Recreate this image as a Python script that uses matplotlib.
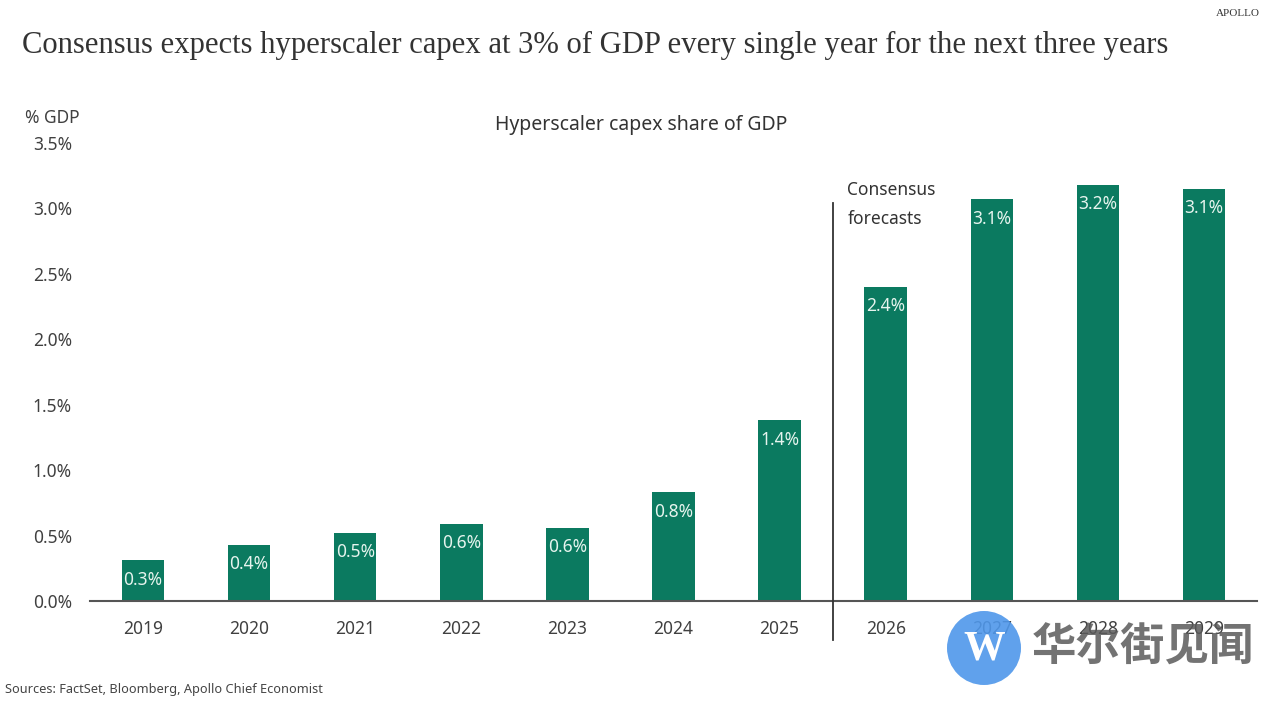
import matplotlib
matplotlib.use("Agg")
import matplotlib.pyplot as plt
from matplotlib.patches import Ellipse

years = ["2019", "2020", "2021", "2022", "2023", "2024", "2025", "2026", "2027", "2028", "2029"]
values = [0.31, 0.43, 0.52, 0.59, 0.56, 0.83, 1.38, 2.40, 3.07, 3.18, 3.15]
labels = ["0.3%", "0.4%", "0.5%", "0.6%", "0.6%", "0.8%", "1.4%", "2.4%", "3.1%", "3.2%", "3.1%"]
yticks = [0.0, 0.5, 1.0, 1.5, 2.0, 2.5, 3.0, 3.5]
ytick_labels = ["0.0%", "0.5%", "1.0%", "1.5%", "2.0%", "2.5%", "3.0%", "3.5%"]

BAR = "#0b7a60"
TXT = "#404040"
sans = ["Noto Sans", "DejaVu Sans"]

fig = plt.figure(figsize=(12.8, 7.07), dpi=100)
ax = fig.add_axes([90/1280, 1-601/707, 1167/1280, 458/707])

x = list(range(len(years)))
bars = ax.bar(x, values, width=0.4, color=BAR, zorder=2)
for xi, v, lab in zip(x, values, labels):
    ax.annotate(lab, (xi, v), xytext=(0, -14), textcoords="offset points",
                ha="center", va="center", color="#e6f4ee", fontsize=12.5, family=sans)

ax.set_xlim(-0.5, 10.5)
ax.set_ylim(0, 3.5)
ax.set_yticks(yticks)
ax.set_yticklabels(ytick_labels, family=sans, fontsize=12.5, color=TXT)
ax.set_xticks(x)
ax.set_xticklabels(years, family=sans, fontsize=12.5, color=TXT)
ax.tick_params(axis="both", length=0)
ax.tick_params(axis="y", pad=13)
ax.tick_params(axis="x", pad=13.5)
for s in ["top", "right", "left"]:
    ax.spines[s].set_visible(False)
ax.spines["bottom"].set_color("#555555")
ax.spines["bottom"].set_linewidth(1.5)

# divider for consensus forecasts
ax.plot([6.5, 6.5], [3.04, -0.3], color="#333333", lw=1.3, clip_on=False, zorder=3)
ax.text(6.64, 3.03, "Consensus\nforecasts", ha="left", va="center", fontsize=12.5,
        color="#333333", family=sans, linespacing=1.75)

fig.text(22/1280, 1-45/707, "Consensus expects hyperscaler capex at 3% of GDP every single year for the next three years",
         family=["Liberation Serif", "DejaVu Serif"], fontsize=22.1, color="#333333", ha="left", va="center")
fig.text(1260/1280, 1-14/707, "APOLLO", family=["Liberation Serif", "DejaVu Serif"], fontsize=8,
         color="#333333", ha="right", va="center")
fig.text(641/1280, 1-125/707, "Hyperscaler capex share of GDP", family=sans, fontsize=14,
         color="#333333", ha="center", va="center")
fig.text(25/1280, 1-118/707, "% GDP", family=sans, fontsize=12.5, color=TXT, ha="left", va="center")
fig.text(5/1280, 1-690/707, "Sources: FactSet, Bloomberg, Apollo Chief Economist", family=sans,
         fontsize=9.2, color="#444444", ha="left", va="center")

# watermark (semi-transparent overlay)
circ = Ellipse((984/1280, 1-648/707), 74/1280, 74/707, transform=fig.transFigure,
               color="#4f97ea", alpha=0.9, zorder=10, ec="none")
fig.add_artist(circ)
fig.text(984/1280, 1-650/707, "W", family=["Liberation Serif", "DejaVu Serif"], fontsize=30,
         fontweight="bold", color="white", ha="center", va="center", zorder=11)
fig.text(1032/1280, 1-648/707, "华尔街见闻", family=["Noto Sans CJK SC", "DejaVu Sans"], fontsize=32,
         fontweight="bold", color="#5a5a5a", alpha=0.85, ha="left", va="center", zorder=11)

fig.savefig("out.png", dpi=100)
